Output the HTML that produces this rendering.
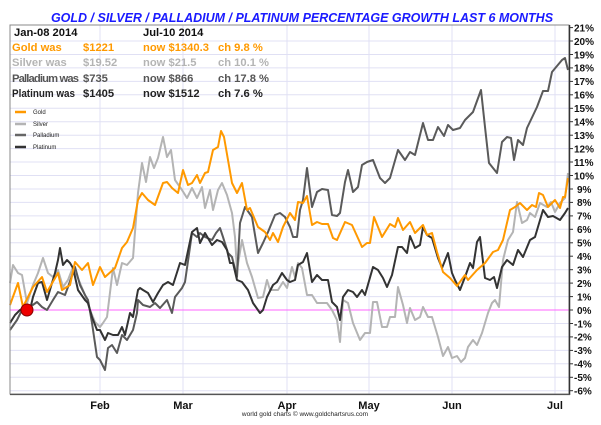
<!DOCTYPE html>
<html><head><meta charset="utf-8"><style>
html,body{margin:0;padding:0;background:#fff;width:601px;height:425px;overflow:hidden}
svg text{font-family:"Liberation Sans",Arial,sans-serif}
</style></head><body>
<svg width="601" height="425" viewBox="0 0 601 425" xmlns="http://www.w3.org/2000/svg">
<rect width="601" height="425" fill="#fff"/>
<text x="302" y="22" text-anchor="middle" font-size="12.5" font-weight="bold" font-style="italic" fill="#1a1aff">GOLD / SILVER / PALLADIUM / PLATINUM PERCENTAGE GROWTH LAST 6 MONTHS</text>
<g stroke="#e0e0f4" stroke-width="1">
<line x1="10" x2="569" y1="41" y2="41"/><line x1="10" x2="569" y1="54.5" y2="54.5"/><line x1="10" x2="569" y1="67.9" y2="67.9"/><line x1="10" x2="569" y1="81.4" y2="81.4"/><line x1="10" x2="569" y1="94.8" y2="94.8"/><line x1="10" x2="569" y1="108.3" y2="108.3"/><line x1="10" x2="569" y1="121.7" y2="121.7"/><line x1="10" x2="569" y1="135.2" y2="135.2"/><line x1="10" x2="569" y1="148.6" y2="148.6"/><line x1="10" x2="569" y1="162" y2="162"/><line x1="10" x2="569" y1="175.5" y2="175.5"/><line x1="10" x2="569" y1="189" y2="189"/><line x1="10" x2="569" y1="202.4" y2="202.4"/><line x1="10" x2="569" y1="215.9" y2="215.9"/><line x1="10" x2="569" y1="229.3" y2="229.3"/><line x1="10" x2="569" y1="242.8" y2="242.8"/><line x1="10" x2="569" y1="256.2" y2="256.2"/><line x1="10" x2="569" y1="269.7" y2="269.7"/><line x1="10" x2="569" y1="283.1" y2="283.1"/><line x1="10" x2="569" y1="296.6" y2="296.6"/><line x1="10" x2="569" y1="323.5" y2="323.5"/><line x1="10" x2="569" y1="336.9" y2="336.9"/><line x1="10" x2="569" y1="350.4" y2="350.4"/><line x1="10" x2="569" y1="363.8" y2="363.8"/><line x1="10" x2="569" y1="377.3" y2="377.3"/><line x1="10" x2="569" y1="390.7" y2="390.7"/>
<line x1="100" x2="100" y1="25" y2="394"/><line x1="183" x2="183" y1="25" y2="394"/><line x1="287" x2="287" y1="25" y2="394"/><line x1="369" x2="369" y1="25" y2="394"/><line x1="452" x2="452" y1="25" y2="394"/><line x1="555" x2="555" y1="25" y2="394"/>
</g>
<line x1="10" x2="569" y1="310" y2="310" stroke="#ff66ff" stroke-width="1"/>
<g font-size="11.2" font-weight="bold">
<text x="14" y="36" fill="#111">Jan-08  2014</text><text x="143" y="36" fill="#111">Jul-10  2014</text>
<text x="12" y="51" fill="#ff9900">Gold was</text><text x="83" y="51" fill="#ff9900">$1221</text><text x="143" y="51" fill="#ff9900">now $1340.3</text><text x="218" y="51" fill="#ff9900">ch 9.8 %</text>
<text x="12" y="66" fill="#b4b4b4">Silver was</text><text x="83" y="66" fill="#b4b4b4">$19.52</text><text x="143" y="66" fill="#b4b4b4">now $21.5</text><text x="218" y="66" fill="#b4b4b4">ch 10.1 %</text>
<text x="12" y="82" fill="#555" textLength="67" lengthAdjust="spacing">Palladium was</text><text x="83" y="82" fill="#555">$735</text><text x="143" y="82" fill="#555">now $866</text><text x="218" y="82" fill="#555">ch 17.8 %</text>
<text x="12" y="97" fill="#222" textLength="63" lengthAdjust="spacingAndGlyphs">Platinum was</text><text x="83" y="97" fill="#222">$1405</text><text x="143" y="97" fill="#222">now $1512</text><text x="218" y="97" fill="#222">ch 7.6 %</text>
</g>
<g stroke-width="2.5">
<line x1="15" x2="26" y1="112" y2="112" stroke="#ff9900"/><line x1="15" x2="26" y1="124" y2="124" stroke="#b4b4b4"/><line x1="15" x2="26" y1="135" y2="135" stroke="#666"/><line x1="15" x2="26" y1="147" y2="147" stroke="#333"/>
</g>
<g font-size="6" fill="#222"><text x="33" y="114">Gold</text><text x="33" y="126">Silver</text><text x="33" y="137">Palladium</text><text x="33" y="149">Platinum</text></g>
<g fill="none" stroke-width="2" stroke-linejoin="round">
<polyline stroke="#b4b4b4" points="10,283 13,265 18,273 22,275 27,303 33,285 38,273 43,258 48,273 53,277 58,270 63,287 68,280 73,267 80,283 85,295 90,310 95,322 100,327 103,323 107,317 113,268 117,285 122,263 127,265 133,258 138,193 142,163 146,182 150,157 154,168 158,158 163,137 167,157 171,150 175,180 182,190 187,198 192,188 197,198 202,187 205,208 210,190 213,210 218,190 222,183 227,195 232,213 235,237 237,270 242,240 247,263 252,277 258,298 263,297 267,280 270,290 278,290 283,282 287,288 292,267 295,277 298,263 302,268 307,295 312,295 317,303 327,303 332,310 337,320 340,342 343,300 348,303 353,323 360,340 365,333 370,333 373,302 377,302 382,327 387,327 390,317 395,317 398,287 403,305 407,323 410,308 415,320 420,317 423,307 428,317 432,317 438,337 443,356 448,347 452,358 457,356 461,362 465,358 468,347 473,340 477,345 482,333 488,313 492,303 495,300 499,307 503,260 508,240 513,232 517,202 522,223 527,220 530,213 535,217 540,203 547,207 551,202 555,212 560,203 565,198 568,173"/>
<polyline stroke="#5a5a5a" points="10,330 17,320 23,308 30,307 37,302 42,307 47,310 53,300 58,292 65,295 68,287 75,267 80,285 85,295 88,300 92,323 97,357 100,360 105,370 108,348 112,345 117,353 122,335 127,340 133,330 137,313 138,300 143,305 150,307 155,303 160,308 167,300 172,313 175,297 182,288 185,282 192,233 197,237 200,233 205,237 212,240 216,233 220,228 223,237 228,253 232,257 237,277 240,223 245,207 252,217 258,253 263,243 268,232 275,215 280,213 285,217 290,227 293,237 297,237 300,210 303,200 307,168 312,207 317,192 322,189 328,190 332,215 337,216 340,213 345,182 348,170 353,192 358,187 362,165 367,162 373,160 380,178 385,183 390,178 398,150 405,160 410,152 415,155 423,123 428,140 433,140 438,127 444,136 448,125 453,130 460,128 465,120 473,112 481,90 485,127 489,163 497,173 502,142 507,137 511,138 514,160 518,140 523,145 527,128 537,107 543,91 548,91 552,72 562,60 565,58 568,70"/>
<polyline stroke="#333" points="10,323 15,315 20,310 25,307 30,310 33,297 38,283 42,282 47,300 52,283 55,273 58,260 60,248 63,265 67,260 70,263 73,268 78,290 85,300 88,303 92,317 97,330 100,330 105,340 108,333 113,335 118,335 122,327 125,335 130,313 133,317 138,290 140,288 143,290 148,293 153,302 158,293 163,285 168,282 173,285 180,263 185,265 192,232 197,228 200,243 205,233 212,245 217,240 222,242 227,250 230,263 233,263 237,280 242,282 248,290 253,303 260,313 263,310 267,297 273,285 277,282 282,273 287,280 290,282 295,280 298,265 303,262 307,253 312,282 317,275 322,280 328,280 332,302 337,307 340,320 343,297 348,290 353,292 357,297 362,290 365,295 373,267 378,270 383,278 387,287 392,275 398,247 402,247 407,253 410,236 415,248 420,245 423,227 427,235 432,238 438,258 442,268 448,253 452,273 455,280 460,290 465,277 470,263 473,268 477,242 480,237 485,278 490,280 494,277 497,288 502,267 507,260 513,265 518,250 523,257 530,240 535,237 543,210 548,217 553,216 560,220 565,213 568,208"/>
<polyline stroke="#ff9900" points="10,305 18,283 23,307 33,287 42,277 47,292 58,273 62,290 70,285 75,262 82,270 88,263 93,285 100,267 105,277 115,268 122,248 127,242 133,228 138,200 142,193 148,200 155,205 163,183 167,182 172,188 178,193 183,170 188,185 192,183 197,175 200,183 205,173 208,172 213,150 218,147 221,131 224,137 232,183 237,193 242,183 247,210 250,208 258,227 265,232 270,240 273,233 278,242 283,227 290,213 295,220 298,202 303,203 307,196 312,225 317,222 322,224 328,224 333,238 337,240 345,222 352,225 362,247 367,243 370,243 374,217 382,237 390,224 395,227 398,218 403,230 410,222 415,233 420,228 423,225 427,235 432,233 437,252 443,272 450,278 457,286 465,275 468,280 477,270 485,263 493,252 498,250 503,240 510,210 515,207 520,203 527,210 532,205 536,207 539,193 543,195 548,207 555,200 560,208 563,197 565,197 568,178"/>
</g>
<circle cx="27" cy="310" r="6" fill="#ee0000" stroke="#800" stroke-width="1"/>
<path d="M10,25 H569 V394 H10 Z" fill="none" stroke="#888" stroke-width="1"/>
<line x1="569.5" x2="569.5" y1="25" y2="395" stroke="#333" stroke-width="1.5"/>
<line x1="10" x2="570" y1="394.5" y2="394.5" stroke="#555" stroke-width="1.2"/>
<g stroke="#333" stroke-width="1">
<line x1="569" x2="573" y1="27.6" y2="27.6"/><line x1="569" x2="573" y1="41" y2="41"/><line x1="569" x2="573" y1="54.5" y2="54.5"/><line x1="569" x2="573" y1="67.9" y2="67.9"/><line x1="569" x2="573" y1="81.4" y2="81.4"/><line x1="569" x2="573" y1="94.8" y2="94.8"/><line x1="569" x2="573" y1="108.3" y2="108.3"/><line x1="569" x2="573" y1="121.7" y2="121.7"/><line x1="569" x2="573" y1="135.2" y2="135.2"/><line x1="569" x2="573" y1="148.6" y2="148.6"/><line x1="569" x2="573" y1="162" y2="162"/><line x1="569" x2="573" y1="175.5" y2="175.5"/><line x1="569" x2="573" y1="189" y2="189"/><line x1="569" x2="573" y1="202.4" y2="202.4"/><line x1="569" x2="573" y1="215.9" y2="215.9"/><line x1="569" x2="573" y1="229.3" y2="229.3"/><line x1="569" x2="573" y1="242.8" y2="242.8"/><line x1="569" x2="573" y1="256.2" y2="256.2"/><line x1="569" x2="573" y1="269.7" y2="269.7"/><line x1="569" x2="573" y1="283.1" y2="283.1"/><line x1="569" x2="573" y1="296.6" y2="296.6"/><line x1="569" x2="573" y1="310" y2="310"/><line x1="569" x2="573" y1="323.5" y2="323.5"/><line x1="569" x2="573" y1="336.9" y2="336.9"/><line x1="569" x2="573" y1="350.4" y2="350.4"/><line x1="569" x2="573" y1="363.8" y2="363.8"/><line x1="569" x2="573" y1="377.3" y2="377.3"/><line x1="569" x2="573" y1="390.7" y2="390.7"/>
</g>
<g font-size="10" font-weight="bold" fill="#111">
<text x="574" y="31.4">21%</text><text x="574" y="44.8">20%</text><text x="574" y="58.3">19%</text><text x="574" y="71.7">18%</text><text x="574" y="85.2">17%</text><text x="574" y="98.6">16%</text><text x="574" y="112.1">15%</text><text x="574" y="125.5">14%</text><text x="574" y="139">13%</text><text x="574" y="152.4">12%</text><text x="574" y="165.8">11%</text><text x="574" y="179.3">10%</text><text x="577" y="192.8">9%</text><text x="577" y="206.2">8%</text><text x="577" y="219.7">7%</text><text x="577" y="233.1">6%</text><text x="577" y="246.6">5%</text><text x="577" y="260">4%</text><text x="577" y="273.5">3%</text><text x="577" y="286.9">2%</text><text x="577" y="300.4">1%</text><text x="577" y="313.8">0%</text><text x="574" y="327.3">-1%</text><text x="574" y="340.7">-2%</text><text x="574" y="354.2">-3%</text><text x="574" y="367.6">-4%</text><text x="574" y="381.1">-5%</text><text x="574" y="394.5">-6%</text>
</g>
<g font-size="11" font-weight="bold" fill="#111" text-anchor="middle">
<text x="100" y="409">Feb</text><text x="183" y="409">Mar</text><text x="287" y="409">Apr</text><text x="369" y="409">May</text><text x="452" y="409">Jun</text><text x="555" y="409">Jul</text>
</g>
<text x="305" y="416" font-size="6.5" fill="#222" text-anchor="middle">world gold charts © www.goldchartsrus.com</text>
</svg>
</body></html>
